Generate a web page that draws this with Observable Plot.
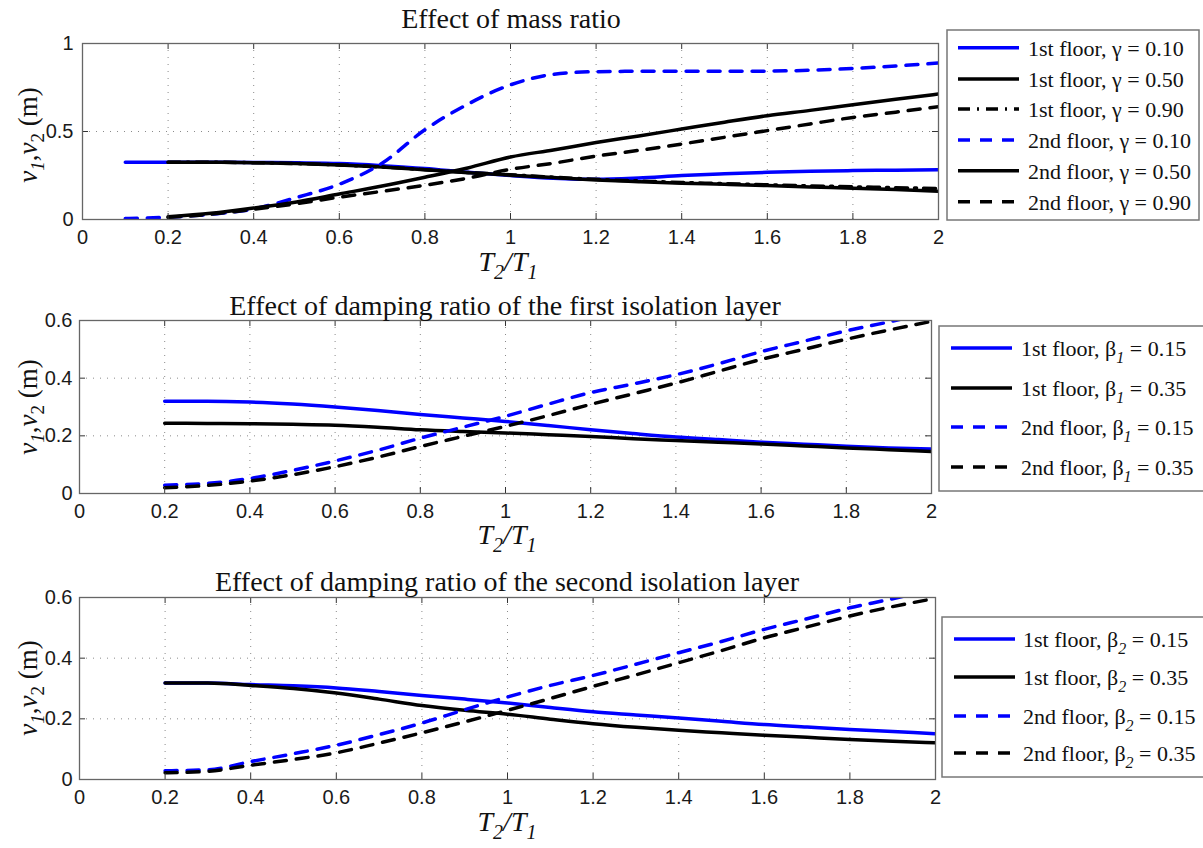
<!DOCTYPE html>
<html><head><meta charset="utf-8">
<script src="https://cdn.jsdelivr.net/npm/d3@7"></script>
<script src="https://cdn.jsdelivr.net/npm/@observablehq/plot@0.6"></script>
<style>
body{margin:0;background:#fff;}
#wrap{position:relative;width:1203px;height:848px;overflow:hidden;background:#fff;}
#wrap > svg{position:absolute;left:0;}
</style></head><body><div id="wrap"></div>
<script>
// ---------- ticks ----------
const xTicks = [0, 0.2, 0.4, 0.6, 0.8, 1, 1.2, 1.4, 1.6, 1.8, 2];
const xTickLabels = ["0","0.2","0.4","0.6","0.8","1","1.2","1.4","1.6","1.8","2"];
const yTicksP1 = [0, 0.5, 1];
const yTickLabelsP1 = ["0","0.5","1"];
const yTicksP23 = [0, 0.2, 0.4, 0.6];
const yTickLabelsP23 = ["0","0.2","0.4","0.6"];

// ---------- x samples ----------
const xFrom01 = [0.1,0.2,0.3,0.4,0.5,0.6,0.7,0.8,0.9,1.0,1.1,1.2,1.3,1.4,1.5,1.6,1.7,1.8,1.9,2.0];
const xFrom02 = [0.2,0.3,0.4,0.5,0.6,0.7,0.8,0.9,1.0,1.1,1.2,1.3,1.4,1.5,1.6,1.7,1.8,1.9,2.0];

// ---------- Panel 1: effect of mass ratio ----------
const p1_1st_g010 = [0.325,0.325,0.325,0.324,0.322,0.318,0.306,0.29,0.268,0.25,0.235,0.228,0.236,0.25,0.26,0.268,0.274,0.278,0.28,0.282];
const p1_1st_g050 = [0.325,0.325,0.323,0.318,0.31,0.298,0.283,0.266,0.252,0.238,0.225,0.215,0.206,0.2,0.193,0.185,0.178,0.17,0.16];
const p1_1st_g090 = [0.325,0.325,0.323,0.318,0.31,0.298,0.283,0.267,0.254,0.24,0.228,0.219,0.21,0.204,0.197,0.191,0.186,0.181,0.176];
const p1_2nd_g010 = [0.005,0.013,0.03,0.06,0.125,0.2,0.32,0.51,0.655,0.765,0.825,0.84,0.842,0.842,0.842,0.843,0.848,0.858,0.872,0.889];
const p1_2nd_g050 = [0.015,0.035,0.065,0.1,0.145,0.19,0.24,0.293,0.355,0.395,0.437,0.475,0.514,0.553,0.59,0.62,0.652,0.683,0.713];
const p1_2nd_g090 = [0.012,0.03,0.058,0.09,0.127,0.16,0.195,0.235,0.285,0.32,0.36,0.393,0.429,0.467,0.505,0.543,0.58,0.61,0.641];

// ---------- Panel 2: damping ratio of first isolation layer ----------
const p2_1st_b015 = [0.32,0.32,0.317,0.31,0.3,0.288,0.274,0.262,0.25,0.236,0.221,0.208,0.196,0.187,0.178,0.171,0.164,0.158,0.154];
const p2_1st_b035 = [0.244,0.243,0.242,0.24,0.237,0.23,0.221,0.215,0.21,0.204,0.198,0.19,0.184,0.178,0.172,0.165,0.158,0.152,0.146];
const p2_2nd_b015 = [0.029,0.035,0.052,0.08,0.113,0.15,0.192,0.23,0.268,0.31,0.35,0.38,0.412,0.45,0.492,0.528,0.564,0.595,0.63];
const p2_2nd_b035 = [0.02,0.028,0.043,0.065,0.093,0.126,0.163,0.198,0.233,0.27,0.309,0.346,0.383,0.424,0.465,0.5,0.535,0.567,0.597];

// ---------- Panel 3: damping ratio of second isolation layer ----------
const p3_1st_b015 = [0.318,0.318,0.313,0.309,0.302,0.29,0.277,0.265,0.252,0.237,0.223,0.213,0.203,0.192,0.181,0.173,0.165,0.158,0.151];
const p3_1st_b035 = [0.318,0.318,0.31,0.3,0.285,0.265,0.244,0.228,0.215,0.199,0.184,0.172,0.162,0.154,0.146,0.139,0.132,0.126,0.121];
const p3_2nd_b015 = [0.029,0.032,0.059,0.085,0.113,0.148,0.186,0.23,0.272,0.31,0.343,0.38,0.418,0.455,0.495,0.53,0.566,0.596,0.63];
const p3_2nd_b035 = [0.022,0.027,0.047,0.066,0.088,0.12,0.154,0.19,0.228,0.267,0.307,0.345,0.385,0.425,0.467,0.503,0.539,0.57,0.597];

// ---------- titles & legend labels ----------
const titles = ["Effect of mass ratio",
  "Effect of damping ratio of the first isolation layer",
  "Effect of damping ratio of the second isolation layer"];
const p1Labels = [["1st floor, γ = 0.10"],["1st floor, γ = 0.50"],["1st floor, γ = 0.90"],
                  ["2nd floor, γ = 0.10"],["2nd floor, γ = 0.50"],["2nd floor, γ = 0.90"]];
const p2Labels = [["1st floor, β","1"," = 0.15"],["1st floor, β","1"," = 0.35"],
                  ["2nd floor, β","1"," = 0.15"],["2nd floor, β","1"," = 0.35"]];
const p3Labels = [["1st floor, β","2"," = 0.15"],["1st floor, β","2"," = 0.35"],
                  ["2nd floor, β","2"," = 0.15"],["2nd floor, β","2"," = 0.35"]];

// ---------- styles ----------
const BLUE = "#0000ff", BLACK = "#000000";
const SOLID = null, DASH = "12,10", DASHDOT = "12,7,2,7";

const p1Series = [
  {x: xFrom01, y: p1_1st_g010, color: BLUE,  dash: SOLID},
  {x: xFrom02, y: p1_1st_g050, color: BLACK, dash: SOLID},
  {x: xFrom02, y: p1_1st_g090, color: BLACK, dash: DASHDOT},
  {x: xFrom01, y: p1_2nd_g010, color: BLUE,  dash: DASH},
  {x: xFrom02, y: p1_2nd_g050, color: BLACK, dash: SOLID},
  {x: xFrom02, y: p1_2nd_g090, color: BLACK, dash: DASH}
];
const p2Series = [
  {x: xFrom02, y: p2_1st_b015, color: BLUE,  dash: SOLID},
  {x: xFrom02, y: p2_1st_b035, color: BLACK, dash: SOLID},
  {x: xFrom02, y: p2_2nd_b015, color: BLUE,  dash: DASH},
  {x: xFrom02, y: p2_2nd_b035, color: BLACK, dash: DASH}
];
const p3Series = [
  {x: xFrom02, y: p3_1st_b015, color: BLUE,  dash: SOLID},
  {x: xFrom02, y: p3_1st_b035, color: BLACK, dash: SOLID},
  {x: xFrom02, y: p3_2nd_b015, color: BLUE,  dash: DASH},
  {x: xFrom02, y: p3_2nd_b035, color: BLACK, dash: DASH}
];

const wrap = document.getElementById("wrap");
const rows = (xs, ys) => xs.map((x, i) => ({x, y: ys[i]}));

function panel(c) {
  const innerW = c.width - c.ml - c.mr, innerH = c.height - c.mt - c.mb;
  const xFmt = new Map(xTicks.map((t, i) => [t, xTickLabels[i]]));
  const yFmt = new Map(c.yTicks.map((t, i) => [t, c.yLabels[i]]));
  const grid = {stroke: "#8a8a8a", strokeOpacity: 1, strokeWidth: 1, strokeDasharray: "1,6"};
  const tk = {stroke: "#333", strokeWidth: 1, strokeOpacity: 1};
  const svg = Plot.plot({
    width: c.width, height: c.height,
    marginLeft: c.ml, marginRight: c.mr, marginTop: c.mt, marginBottom: c.mb,
    x: {domain: [0, 2]}, y: {domain: [0, c.yMax]},
    style: {fontFamily: "'Liberation Sans', Arial, sans-serif", fontSize: "20px", color: "#1a1a1a", background: "white", overflow: "visible"},
    marks: [
      Plot.ruleX(xTicks.slice(1, -1), {x: d => d, ...grid}),
      Plot.ruleY(c.yTicks.slice(1, -1), {y: d => d, ...grid}),
      ...c.series.map(s => Plot.line(rows(s.x, s.y), {
        x: "x", y: "y", stroke: s.color, strokeWidth: 3.5,
        strokeDasharray: s.dash, curve: "monotone-x", clip: true
      })),
      Plot.tickX(xTicks, {x: d => d, insetTop: innerH - 6, ...tk}),
      Plot.tickX(xTicks, {x: d => d, insetBottom: innerH - 6, ...tk}),
      Plot.tickY(c.yTicks, {y: d => d, insetRight: innerW - 6, ...tk}),
      Plot.tickY(c.yTicks, {y: d => d, insetLeft: innerW - 6, ...tk}),
      Plot.frame({stroke: "#666", strokeWidth: 1.3}),
      Plot.axisX(xTicks, {tickSize: 0, tickPadding: 10, tickFormat: d => xFmt.get(d), label: null, fontSize: 20}),
      Plot.axisY(c.yTicks, {tickSize: 0, tickPadding: c.yPad, tickFormat: d => yFmt.get(d), label: null, fontSize: 20})
    ]
  });
  svg.style.top = c.top + "px";
  wrap.appendChild(svg);
}

panel({top: 33, width: 948, height: 226, ml: 82, mr: 10, mt: 10, mb: 40, yMax: 1,
       yTicks: yTicksP1, yLabels: yTickLabelsP1, yPad: 9, series: p1Series});
panel({top: 310, width: 942, height: 223, ml: 79, mr: 11, mt: 10, mb: 40, yMax: 0.6,
       yTicks: yTicksP23, yLabels: yTickLabelsP23, yPad: 7, series: p2Series});
panel({top: 587, width: 946, height: 232, ml: 79, mr: 11, mt: 10, mb: 40, yMax: 0.6,
       yTicks: yTicksP23, yLabels: yTickLabelsP23, yPad: 7, series: p3Series});

// ---------- overlay: titles, axis labels, legends ----------
const ov = d3.select(wrap).append("svg")
  .attr("width", 1203).attr("height", 848)
  .style("top", "0px").style("pointer-events", "none")
  .style("font-family", "'Liberation Serif', 'Times New Roman', serif");

const layout = [
  {title: [511, 28], xl: [508, 271], yl: [37, 135]},
  {title: [505, 315], xl: [507, 544], yl: [37, 407]},
  {title: [507, 591], xl: [507, 831], yl: [37, 688]}
];
layout.forEach((L, i) => {
  ov.append("text").attr("x", L.title[0]).attr("y", L.title[1])
    .attr("text-anchor", "middle").attr("font-size", 28).attr("fill", "#111").text(titles[i]);
  const xl = ov.append("text").attr("x", L.xl[0]).attr("y", L.xl[1])
    .attr("text-anchor", "middle").attr("font-size", 28).attr("font-style", "italic").attr("fill", "#111");
  xl.append("tspan").text("T");
  xl.append("tspan").attr("dy", 8).attr("font-size", 20).text("2");
  xl.append("tspan").attr("dy", -8).text("/T");
  xl.append("tspan").attr("dy", 8).attr("font-size", 20).text("1");
  const yl = ov.append("text").attr("transform", `translate(${L.yl[0]},${L.yl[1]}) rotate(-90)`)
    .attr("text-anchor", "middle").attr("font-size", 27).attr("fill", "#111");
  yl.append("tspan").attr("font-style", "italic").text("v");
  yl.append("tspan").attr("dy", 7).attr("font-size", 19).attr("font-style", "italic").text("1");
  yl.append("tspan").attr("dy", -7).text(",");
  yl.append("tspan").attr("font-style", "italic").text("v");
  yl.append("tspan").attr("dy", 7).attr("font-size", 19).text("2");
  yl.append("tspan").attr("dy", -7).text(" (m)");
});

const legends = [
  {box: [947, 30, 1199, 220], rowsY: [47.7, 79, 109, 140, 170.7, 201.7], sx: [958, 1019], tx: 1028, series: p1Series, labels: p1Labels},
  {box: [939, 326, 1204, 491], rowsY: [348, 388, 427, 467], sx: [951, 1012], tx: 1021, series: p2Series, labels: p2Labels},
  {box: [942, 617, 1204, 777], rowsY: [639, 677, 716, 753], sx: [954, 1015], tx: 1023, series: p3Series, labels: p3Labels}
];
legends.forEach(L => {
  ov.append("rect").attr("x", L.box[0]).attr("y", L.box[1])
    .attr("width", L.box[2] - L.box[0]).attr("height", L.box[3] - L.box[1])
    .attr("fill", "white").attr("stroke", "#777").attr("stroke-width", 1.5);
  L.series.forEach((s, i) => {
    const y = L.rowsY[i];
    ov.append("line").attr("x1", L.sx[0]).attr("x2", L.sx[1]).attr("y1", y).attr("y2", y)
      .attr("stroke", s.color).attr("stroke-width", 3.5)
      .attr("stroke-dasharray", s.dash);
    const t = ov.append("text").attr("x", L.tx).attr("y", y + 8).attr("font-size", 22).attr("fill", "#111");
    const lab = L.labels[i];
    t.append("tspan").text(lab[0]);
    if (lab.length > 1) {
      t.append("tspan").attr("dy", 7).attr("font-size", 16).attr("font-style", "italic").text(lab[1]);
      t.append("tspan").attr("dy", -7).text(lab[2]);
    }
  });
});
</script>
</body></html>
